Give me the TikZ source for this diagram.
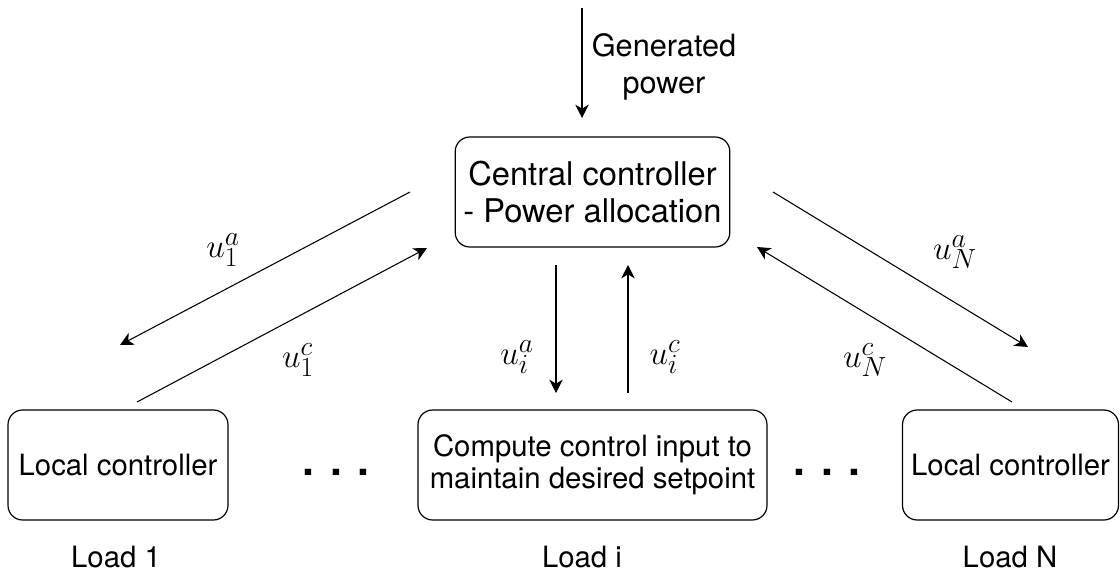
\documentclass[tikz,border=0pt]{standalone}
\usepackage{fontspec}
\setmainfont{TeX Gyre Heros}
\usetikzlibrary{arrows.meta}
\begin{document}
\begin{tikzpicture}[x=0.75pt,y=-0.75pt,
  box/.style={draw, rounded corners=11pt, line width=0.9pt, align=center, inner sep=1pt, minimum height=82.5pt},
  txt/.style={font=\fontsize{22}{24}\selectfont},
  bigtxt/.style={font=\fontsize{24.5}{27.5}\selectfont},
  mlabel/.style={font=\fontsize{30}{34}\selectfont, inner sep=0pt},
  dots/.style={font=\fontsize{32}{36}\selectfont\bfseries, inner sep=0pt},
  arr/.style={-{Stealth[length=10pt,width=10pt,inset=3pt]}, line width=0.8pt}
]
\useasboundingbox (0,0) rectangle (1120,575);

% boxes
\node[box, bigtxt, minimum width=206pt] (central) at (592.5,192) {Central controller\\- Power allocation};
\node[box, txt, minimum width=165pt] (left) at (118,465) {Local controller};
\node[box, txt, minimum width=261.75pt] (mid) at (592.5,465) {Compute control input to\\maintain desired setpoint};
\node[box, txt, minimum width=162pt] (right) at (1010.5,465) {Local controller};

% load labels
\node[txt] (load1) at (116,557) {Load 1};
\node[txt] (loadi) at (582,557) {Load i};
\node[txt] (loadN) at (1010,557) {Load N};

% dots
\node[dots] (dl) at (336,472) {. . .};
\node[dots] (dr) at (827,472) {. . .};

% generated power
\coordinate (gtop) at (582,8);
\coordinate (gbot) at (582,118);
\draw[arr] (gtop) -- (gbot);
\node[align=center, font=\fontsize{23}{27.75}\selectfont] (gen) at (664,67) {Generated\\power};

% left pair
\coordinate (l1s) at (410,192);
\coordinate (l1e) at (120,345);
\coordinate (l2s) at (137,402);
\coordinate (l2e) at (427,248);
\draw[arr] (l1s) -- (l1e);
\draw[arr] (l2s) -- (l2e);
\node[mlabel] (u1a) at (223,250) {$u_1^a$};
\node[mlabel] (u1c) at (298,360) {$u_1^c$};

% middle pair
\coordinate (m1s) at (556,265);
\coordinate (m1e) at (556,393);
\coordinate (m2s) at (628,393);
\coordinate (m2e) at (628,265);
\draw[arr] (m1s) -- (m1e);
\draw[arr] (m2s) -- (m2e);
\node[mlabel] (uia) at (517,357) {$u_i^a$};
\node[mlabel] (uic) at (665,357) {$u_i^c$};

% right pair
\coordinate (r1s) at (773,192);
\coordinate (r1e) at (1028,347);
\coordinate (r2s) at (1012,402);
\coordinate (r2e) at (757,247);
\draw[arr] (r1s) -- (r1e);
\draw[arr] (r2s) -- (r2e);
\node[mlabel] (uNa) at (955,252) {$u_N^a$};
\node[mlabel] (uNc) at (865,360) {$u_N^c$};
\end{tikzpicture}
\end{document}
